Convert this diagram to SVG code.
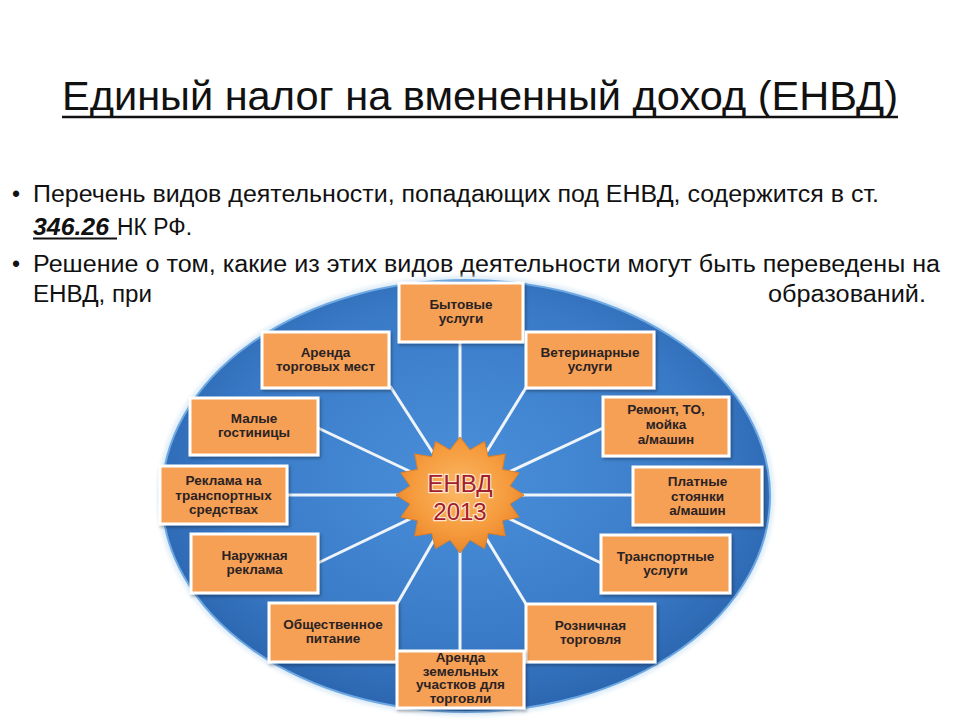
<svg xmlns="http://www.w3.org/2000/svg" width="960" height="720" viewBox="0 0 960 720">
<defs>
<radialGradient id="gEll" cx="0.5" cy="0.45" r="0.55">
<stop offset="0" stop-color="#4a8fd9"/>
<stop offset="0.7" stop-color="#3a7bc8"/>
<stop offset="1" stop-color="#2c66b0"/>
</radialGradient>
<radialGradient id="gStar" cx="0.5" cy="0.45" r="0.55">
<stop offset="0" stop-color="#fbb865"/>
<stop offset="0.7" stop-color="#f59a3c"/>
<stop offset="1" stop-color="#e8852a"/>
</radialGradient>
<filter id="sh" x="-10%" y="-10%" width="125%" height="130%">
<feDropShadow dx="1.5" dy="2" stdDeviation="1.5" flood-color="#000" flood-opacity="0.3"/>
</filter>
<filter id="glow" x="-5%" y="-5%" width="110%" height="110%">
<feGaussianBlur stdDeviation="2"/>
</filter>
</defs>
<style>
.title{font-family:"Liberation Sans",Arial,sans-serif;font-size:40px;fill:#111;}
.body{font-family:"Liberation Sans",Arial,sans-serif;font-size:23px;fill:#111;}
.ul{stroke:#111;}
.box rect{fill:#f5a055;stroke:#fff;stroke-width:3;filter:url(#sh);}
.box text{font-family:"Liberation Sans",Arial,sans-serif;font-size:13.5px;font-weight:bold;fill:#2a2224;text-anchor:middle;}
.conn line{stroke:#eef4fa;stroke-width:3;}
.star text{font-family:"Liberation Sans",Arial,sans-serif;font-size:24px;fill:#a3202a;stroke:#fde4cc;stroke-width:2.5;paint-order:stroke;text-anchor:middle;}
</style>
<rect width="960" height="720" fill="#fff"/>
<g id="title">
<text class="title" x="62" y="110" textLength="836" lengthAdjust="spacingAndGlyphs">Единый налог на вмененный доход (ЕНВД)</text>
<line class="ul" x1="62" y1="117" x2="898" y2="117" stroke-width="2.5"/>
</g>
<g id="bullets">
<text class="body" x="12" y="202">•</text>
<text class="body" x="33" y="202" textLength="846" lengthAdjust="spacingAndGlyphs">Перечень видов деятельности, попадающих под ЕНВД, содержится в ст.</text>
<text class="body" x="33" y="235" font-weight="bold" font-style="italic" textLength="76" lengthAdjust="spacingAndGlyphs">346.26</text>
<line class="ul" x1="33" y1="238.5" x2="117" y2="238.5" stroke-width="1.8"/>
<text class="body" x="117" y="235" textLength="75" lengthAdjust="spacingAndGlyphs">НК РФ.</text>
<text class="body" x="12" y="272">•</text>
<text class="body" x="33" y="272" textLength="907" lengthAdjust="spacingAndGlyphs">Решение о том, какие из этих видов деятельности могут быть переведены на</text>
<text class="body" x="33" y="302" textLength="119" lengthAdjust="spacingAndGlyphs">ЕНВД, при</text>
<text class="body" x="768" y="302" textLength="158" lengthAdjust="spacingAndGlyphs">образований.</text>
</g>
<g id="background">
<ellipse cx="466" cy="496" rx="308" ry="220" fill="#dcebf8" filter="url(#glow)"/>
<ellipse cx="466" cy="496" rx="304" ry="216" fill="url(#gEll)" stroke="#6ea8e2" stroke-width="2"/>
</g>
<g id="connectors" class="conn">
<line x1="460" y1="495" x2="460" y2="342"/>
<line x1="460" y1="495" x2="390" y2="386"/>
<line x1="460" y1="495" x2="527" y2="386"/>
<line x1="460" y1="495" x2="318" y2="428"/>
<line x1="460" y1="495" x2="603" y2="428"/>
<line x1="460" y1="495" x2="287" y2="495"/>
<line x1="460" y1="495" x2="633" y2="495"/>
<line x1="460" y1="495" x2="318" y2="563"/>
<line x1="460" y1="495" x2="601" y2="563"/>
<line x1="460" y1="495" x2="397" y2="604"/>
<line x1="460" y1="495" x2="526" y2="604"/>
<line x1="460" y1="495" x2="460" y2="651"/>
</g>
<g id="center" class="star">
<polygon points="460,437 470,449.9 484.5,441.4 488.3,456.8 505.3,454 502.4,469.4 519.1,472.8 510,486 524,495 510,504 519.1,517.2 502.4,520.6 505.3,536 488.3,533.2 484.5,548.6 470,540.1 460,553 450,540.1 435.5,548.6 431.7,533.2 414.7,536 417.6,520.6 400.9,517.2 410,504 396,495 410,486 400.9,472.8 417.6,469.4 414.7,454 431.7,456.8 435.5,441.4 450,449.9" fill="url(#gStar)" stroke="#e07f25" stroke-width="1"/>
<text x="460" y="492">ЕНВД</text>
<text x="460" y="520">2013</text>
</g>
<g id="n1" class="box"><rect x="399" y="283" width="124" height="59"/><text x="461" y="309">Бытовые</text><text x="461" y="323">услуги</text></g>
<g id="n2" class="box"><rect x="262" y="332" width="127" height="56"/><text x="325.5" y="356.5">Аренда</text><text x="325.5" y="370.5">торговых мест</text></g>
<g id="n3" class="box"><rect x="526" y="332" width="128" height="56"/><text x="590" y="356.5">Ветеринарные</text><text x="590" y="370.5">услуги</text></g>
<g id="n4" class="box"><rect x="190" y="398" width="128" height="57"/><text x="254" y="423">Малые</text><text x="254" y="437">гостиницы</text></g>
<g id="n5" class="box"><rect x="603" y="397" width="126" height="59"/><text x="666" y="414">Ремонт, ТО,</text><text x="666" y="429">мойка</text><text x="666" y="444">а/машин</text></g>
<g id="n6" class="box"><rect x="160" y="466" width="127" height="58"/><text x="223.5" y="485">Реклама на</text><text x="223.5" y="499.5">транспортных</text><text x="223.5" y="514">средствах</text></g>
<g id="n7" class="box"><rect x="633" y="467" width="129" height="58"/><text x="697.5" y="486">Платные</text><text x="697.5" y="500.5">стоянки</text><text x="697.5" y="515">а/машин</text></g>
<g id="n8" class="box"><rect x="191" y="534" width="127" height="59"/><text x="254.5" y="560">Наружная</text><text x="254.5" y="574">реклама</text></g>
<g id="n9" class="box"><rect x="601" y="535" width="129" height="58"/><text x="665.5" y="560.5">Транспортные</text><text x="665.5" y="574.5">услуги</text></g>
<g id="n10" class="box"><rect x="269" y="603" width="128" height="59"/><text x="333" y="629">Общественное</text><text x="333" y="643">питание</text></g>
<g id="n11" class="box"><rect x="526" y="604" width="129" height="58"/><text x="590.5" y="629.5">Розничная</text><text x="590.5" y="643.5">торговля</text></g>
<g id="n12" class="box"><rect x="397" y="651" width="127" height="57"/><text x="460.5" y="662" font-size="11.5">Аренда</text><text x="460.5" y="675.5" font-size="11.5">земельных</text><text x="460.5" y="689" font-size="11.5">участков для</text><text x="460.5" y="702.5" font-size="11.5">торговли</text></g>
</svg>
